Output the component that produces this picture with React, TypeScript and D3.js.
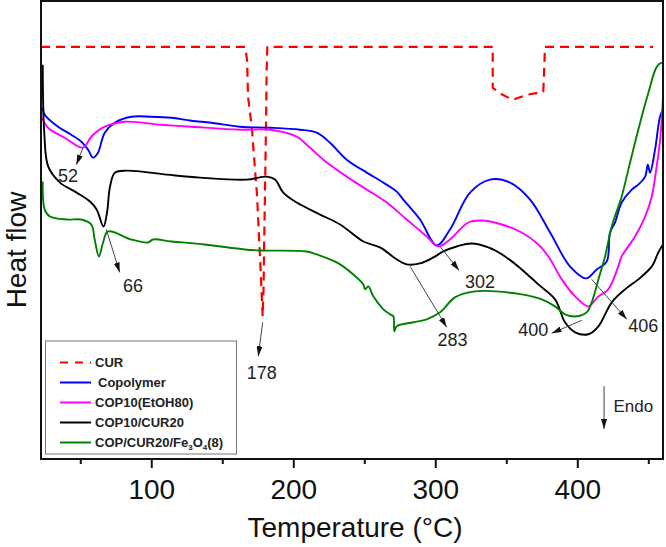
import React from "react";
import * as d3 from "d3";

// DSC thermograms, temperature (°C) vs heat flow (a.u.), endo down
const cur: [number, number][] = [
  [22, 41.3], [165.7, 41.3], [167.1, 40.0], [167.8, 36.3], [170.4, 33.3], [172.7, 29.0],
  [174.1, 26.5], [176.2, 20.3], [178.1, 14.3], [178.7, 17.0], [179.0, 20.3], [179.7, 26.5],
  [180.4, 33.0], [180.9, 39.0], [181.4, 41.3], [340.1, 41.3], [340.1, 37.2], [347, 36.5],
  [354.2, 36.0], [364.0, 36.5], [375.7, 36.8], [376.9, 41.3], [453, 41.3],
];

const copolymer: [number, number][] = [
  [23.2, 35.2], [24.6, 34.5], [34.0, 33.3], [43.3, 32.5], [50.4, 31.8], [55.1, 31.0],
  [58.6, 30.2], [62.1, 30.7], [66.9, 32.7], [73.9, 33.7], [85.6, 34.3], [99.7, 34.3],
  [113.8, 34.2], [127.8, 33.9], [141.9, 33.7], [162.1, 33.3], [183.3, 33.2], [204.4, 33.0],
  [216.2, 32.7], [225.5, 31.7], [237.3, 30.0], [251.4, 28.7], [263.1, 27.7], [272.5, 26.8],
  [277.1, 26.0], [288.9, 24.0], [300.7, 21.4], [310.0, 23.0], [324.1, 26.7], [338.2, 28.0],
  [352.3, 27.7], [366.4, 26.0], [380.5, 22.7], [394.5, 19.3], [405.8, 18.1], [413.3, 19.0],
  [420.4, 19.8], [422.7, 22.7], [426.2, 23.7], [430.9, 25.7], [438.0, 27.0], [442.6, 27.5],
  [447.4, 28.3], [449.3, 29.5], [450.9, 28.7], [454.4, 31.0], [457.9, 34.3], [460, 35.0],
];

const cop10EtOH: [number, number][] = [
  [22.7, 34.2], [26.9, 33.2], [38.7, 32.2], [51.6, 31.2], [57.4, 32.3], [66.9, 33.3],
  [80.9, 33.8], [106.7, 33.5], [127.8, 33.3], [162.1, 33.0], [183.3, 33.0], [202.1, 32.3],
  [209.1, 31.5], [220.8, 30.0], [237.3, 28.3], [251.4, 27.0], [265.5, 25.7], [279.5, 24.0],
  [293.6, 22.3], [301.8, 21.3], [310.0, 22.0], [322.9, 23.7], [332.4, 23.9], [346.4, 23.5],
  [360.5, 22.7], [372.2, 21.5], [379.3, 20.3], [388.7, 18.0], [398.1, 16.3], [407.4, 15.3],
  [414.5, 16.3], [421.5, 17.0], [428.5, 19.3], [430.9, 20.3], [440.3, 22.3], [447.4, 24.3],
  [452.1, 26.3], [454.5, 28.3], [458.0, 32.0], [460, 36.3],
];

const cop10Cur20: [number, number][] = [
  [23.2, 39.5], [24.3, 32.7], [27.1, 29.3], [35.4, 27.7], [47.1, 26.7], [56.5, 25.8],
  [61.2, 25.0], [66.0, 23.3], [68.5, 24.7], [70.6, 27.3], [74.1, 28.7], [82.4, 28.9],
  [110.5, 28.5], [134.0, 28.2], [166.9, 28.0], [180.9, 28.3], [186.8, 28.0], [192.6, 26.7],
  [202.1, 25.7], [218.5, 24.5], [232.6, 23.5], [249.0, 21.8], [260.7, 21.2], [272.5, 20.0],
  [279.5, 19.5], [288.9, 19.6], [298.3, 20.2], [305.3, 20.8], [314.7, 21.3], [325.3, 21.6],
  [337.0, 21.2], [348.8, 20.3], [360.5, 19.0], [372.2, 17.5], [384.0, 16.0], [391.0, 13.7],
  [398.1, 12.7], [407.4, 12.5], [414.5, 13.3], [423.9, 15.7], [433.3, 17.0], [442.6, 18.0],
  [452.1, 19.3], [456.7, 20.7], [460, 21.5],
];

const copCurFe: [number, number][] = [
  [23.2, 27.8], [24.6, 25.0], [28.3, 24.3], [40.1, 24.0], [50.4, 24.0], [57.4, 23.5],
  [59.8, 22.0], [62.8, 20.3], [65.7, 21.7], [69.2, 22.8], [85.6, 22.0], [97.4, 21.7],
  [100.9, 22.0], [113.8, 21.8], [137.3, 21.5], [165.5, 21.0], [176.2, 20.9], [209.1, 20.8],
  [216.2, 20.5], [230.2, 19.7], [241.9, 18.5], [249.0, 17.5], [250.2, 17.0], [252.5, 17.3],
  [256.0, 16.3], [263.1, 15.0], [267.8, 14.5], [270.1, 14.3], [270.8, 12.8], [272.5, 13.3],
  [284.2, 13.7], [293.6, 14.0], [303.0, 14.7], [313.5, 16.2], [327.6, 16.8], [360.5, 16.5],
  [374.6, 16.0], [384.0, 15.3], [391.0, 14.5], [399.3, 14.3], [406.3, 14.7], [409.8, 15.7],
  [414.5, 18.0], [419.2, 20.3], [423.9, 23.3], [430.9, 26.3], [435.6, 29.0], [442.6, 33.0],
  [449.7, 36.7], [455.6, 39.3], [459.1, 39.7], [460, 39.6],
];

const seriesNames = ["CUR", "Copolymer", "COP10(EtOH80)", "COP10/CUR20", "COP/CUR20/Fe3O4(8)"];
const seriesColors = ["#ff0000", "#0000ff", "#ff00ff", "#000000", "#008000"];
const seriesData = [cur, copolymer, cop10EtOH, cop10Cur20, copCurFe];

const majorTicks = [100, 200, 300, 400];
const minorTicks = [50, 150, 250, 350, 450];

// peak annotations: [from T, from HF, tip T, tip HF, label T, label HF, text]
const peakNotes: [number, number, number, number, number, number, string][] = [
  [51.6, 31.2, 46.9, 29.5, 41.0, 27.8, "52"],
  [68.0, 23.0, 77.4, 18.7, 86.8, 16.7, "66"],
  [178.1, 13.7, 175.0, 10.3, 177.4, 8.0, "178"],
  [303.0, 21.3, 316.4, 18.9, 331.2, 17.1, "302"],
  [281.9, 19.3, 307.7, 13.2, 311.8, 11.3, "283"],
  [402.8, 13.9, 381.6, 12.6, 368.7, 12.3, "400"],
  [409.8, 18.0, 434.5, 14.0, 446.1, 12.7, "406"],
];

const W = 666;
const H = 547;
const plot = { left: 41, right: 663, top: 1, bottom: 459 };
const font = "Arial, 'Liberation Sans', sans-serif";

export default function App() {
  const x = d3.scaleLinear().domain([22, 460]).range([plot.left, plot.right]);
  const y = d3.scaleLinear().domain([0, 45.9]).range([plot.bottom, plot.top]);
  const sharp = d3
    .line<[number, number]>()
    .x((d) => x(d[0]))
    .y((d) => y(d[1]));
  const smooth = d3
    .line<[number, number]>()
    .x((d) => x(d[0]))
    .y((d) => y(d[1]))
    .curve(d3.curveCatmullRom.alpha(0.5));

  return (
    <svg
      width={W}
      height={H}
      style={{ position: "absolute", left: 0, top: 0, background: "#fff" }}
      fontFamily={font}
    >
      <defs>
        <marker
          id="tip"
          viewBox="0 0 10 6"
          refX="10"
          refY="3"
          markerWidth="10"
          markerHeight="6"
          markerUnits="userSpaceOnUse"
          orient="auto"
        >
          <path d="M0,0 L10,3 L0,6 Z" fill="#111" />
        </marker>
        <clipPath id="plotArea">
          <rect x={plot.left} y={plot.top} width={plot.right - plot.left} height={plot.bottom - plot.top} />
        </clipPath>
      </defs>

      <g clipPath="url(#plotArea)">
        {seriesData.map((d, i) => (
          <path
            key={seriesNames[i]}
            d={(i === 0 ? sharp(d) : smooth(d)) ?? ""}
            fill="none"
            stroke={seriesColors[i]}
            strokeWidth={i === 0 ? 2.2 : 1.9}
            strokeDasharray={i === 0 ? "9,6" : undefined}
            strokeLinejoin="round"
          />
        ))}
      </g>

      {peakNotes.map(([t0, v0, t1, v1, tl, vl, label]) => (
        <g key={label}>
          <line x1={x(t0)} y1={y(v0)} x2={x(t1)} y2={y(v1)} stroke="#444" strokeWidth={1} markerEnd="url(#tip)" />
          <text x={x(tl)} y={y(vl)} fontSize={18} textAnchor="middle" fill="#222">
            {label}
          </text>
        </g>
      ))}

      {/* endothermic direction */}
      <line x1={x(418.5)} y1={y(7.3)} x2={x(418.5)} y2={y(3.0)} stroke="#444" strokeWidth={1} markerEnd="url(#tip)" />
      <text x={x(425.1)} y={y(4.7)} fontSize={17} fill="#222">
        Endo
      </text>

      {/* legend */}
      <g>
        <rect x={45.5} y={341} width={191} height={113} fill="#fff" stroke="#777" strokeWidth={1} />
        {seriesNames.map((name, i) => {
          const ly = 362.5 + i * 20;
          return (
            <g key={name}>
              <line
                x1={60}
                x2={91}
                y1={ly}
                y2={ly}
                stroke={seriesColors[i]}
                strokeWidth={2}
                strokeDasharray={i === 0 ? "8,7" : undefined}
              />
              <text x={i === 1 ? 98 : 95} y={ly + 4.5} fontSize={13} fontWeight="bold" fill="#222">
                {i === 4 ? (
                  <>
                    COP/CUR20/Fe
                    <tspan fontSize={8} dy={3}>3</tspan>
                    <tspan dy={-3}>O</tspan>
                    <tspan fontSize={8} dy={3}>4</tspan>
                    <tspan dy={-3}>(8)</tspan>
                  </>
                ) : (
                  name
                )}
              </text>
            </g>
          );
        })}
      </g>

      {/* frame */}
      <rect
        x={plot.left}
        y={plot.top}
        width={plot.right - plot.left}
        height={plot.bottom - plot.top}
        fill="none"
        stroke="#111"
        strokeWidth={2}
      />

      {/* x axis ticks */}
      {majorTicks.map((t) => (
        <g key={t}>
          <line x1={x(t)} x2={x(t)} y1={plot.bottom} y2={plot.bottom + 9} stroke="#111" strokeWidth={2} />
          <text x={x(t)} y={499} fontSize={28} textAnchor="middle" fill="#111">
            {t}
          </text>
        </g>
      ))}
      {minorTicks.map((t) => (
        <line key={t} x1={x(t)} x2={x(t)} y1={plot.bottom} y2={plot.bottom + 5} stroke="#111" strokeWidth={2} />
      ))}

      <text x={355} y={537} fontSize={28} textAnchor="middle" fill="#111">
        Temperature (°C)
      </text>
      <text transform="translate(26,250) rotate(-90)" fontSize={28} textAnchor="middle" fill="#111">
        Heat flow
      </text>
    </svg>
  );
}
